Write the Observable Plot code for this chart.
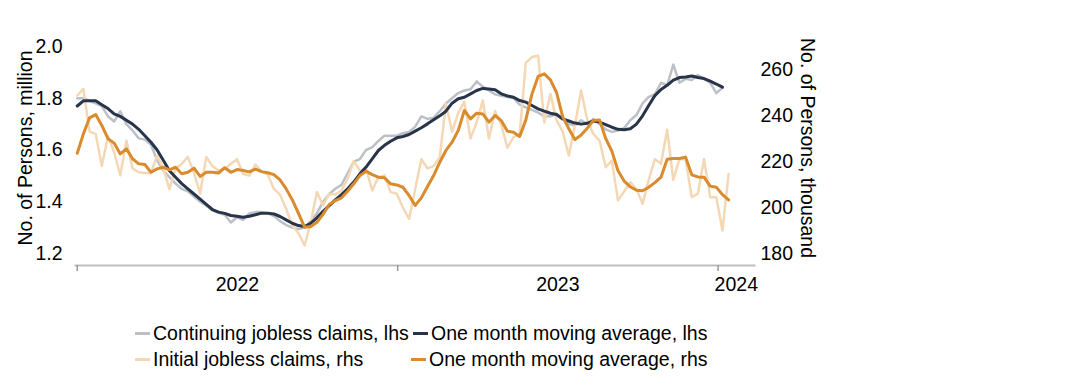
<!DOCTYPE html>
<html>
<head>
<meta charset="utf-8">
<script src="https://cdn.jsdelivr.net/npm/d3@7"></script>
<script src="https://cdn.jsdelivr.net/npm/@observablehq/plot@0.6"></script>
<style>
  html, body { margin: 0; padding: 0; background: #fff; }
  #wrap { position: relative; width: 1088px; height: 390px; font-family: "Liberation Sans", Arial, sans-serif; color: #000; }
  #legend { position: absolute; left: 0; top: 310px; width: 1088px; height: 80px; font-size: 19.5px; }
  .item { position: absolute; display: flex; align-items: center; white-space: nowrap; height: 26px; }
  .sw { display: inline-block; width: 15px; height: 3px; margin-right: 3px; }
</style>
</head>
<body>
<div id="wrap">
  <div id="chart"></div>
  <div id="legend"></div>
</div>
<script>
// ---- data (weekly, starting week ending 2022-01-01) ----
const firstWeek = "2022-01-01";
const seriesNames = [
  "Continuing jobless claims, lhs",
  "One month moving average, lhs",
  "Initial jobless claims, rhs",
  "One month moving average, rhs"
];
// Continuing jobless claims, million (lhs)
const continuing = [
  1.80,1.80,1.79,1.78,1.77,1.73,1.71,1.75,1.70,1.675,
  1.645,1.64,1.62,1.56,1.52,1.495,1.47,1.45,1.44,1.42,
  1.40,1.385,1.367,1.357,1.35,1.32,1.34,1.33,1.355,1.36,
  1.36,1.355,1.345,1.325,1.31,1.30,1.295,1.30,1.325,1.355,
  1.40,1.43,1.45,1.465,1.51,1.555,1.565,1.60,1.61,1.635,
  1.655,1.655,1.655,1.665,1.67,1.69,1.73,1.72,1.725,1.75,
  1.78,1.80,1.82,1.83,1.835,1.865,1.845,1.83,1.815,1.81,
  1.805,1.80,1.775,1.765,1.755,1.745,1.73,1.73,1.74,1.72,
  1.70,1.695,1.715,1.70,1.72,1.70,1.68,1.67,1.675,1.685,
  1.715,1.735,1.78,1.805,1.815,1.86,1.85,1.93,1.86,1.875,
  1.87,1.89,1.875,1.86,1.82,1.84
];
// One month moving average, lhs
const continuingMA = [
  1.77,1.79,1.79,1.79,1.775,1.76,1.74,1.73,1.715,1.70,
  1.68,1.655,1.63,1.60,1.56,1.52,1.495,1.47,1.45,1.43,
  1.41,1.39,1.37,1.36,1.355,1.347,1.344,1.34,1.344,1.35,
  1.356,1.356,1.353,1.343,1.33,1.317,1.308,1.304,1.317,1.338,
  1.363,1.385,1.407,1.428,1.45,1.476,1.508,1.534,1.566,1.598,
  1.618,1.634,1.647,1.652,1.66,1.673,1.686,1.701,1.717,1.732,
  1.75,1.781,1.798,1.804,1.817,1.83,1.838,1.836,1.833,1.817,
  1.809,1.804,1.791,1.785,1.772,1.759,1.75,1.742,1.737,1.72,
  1.712,1.704,1.70,1.703,1.712,1.708,1.698,1.688,1.68,1.678,
  1.682,1.70,1.732,1.772,1.81,1.834,1.85,1.87,1.88,1.882,
  1.886,1.88,1.876,1.866,1.855,1.843
];
// Initial jobless claims, thousand (rhs)
const initial = [
  248.7,251.6,233,232,218,231,224,214,229,217,
  215.3,215,215,222.6,217,208,217,219,222,215,
  206,222,218,216,216.8,219,221,214.6,213.9,218.7,
  215.6,214.3,208.1,205.6,199.4,192.2,188.8,183.5,193.6,206.7,
  200.9,205.9,205.6,207.4,212.5,220.1,216.1,216.8,207.4,213.2,
  213.9,206.7,206,200,195,208,221,217,218,222,
  245,233,241,246,230,237,246.5,230,242,236,
  226,230.6,232,263,265.4,266,237,249.4,238,233,
  222.6,236,250.9,238,232,229,217.5,220.4,203,207,
  211,208,201.6,212,221,219,233.8,212,221,221,
  204.5,206,221.1,204.5,204.5,190,214.6
];
// One month moving average, rhs
const initialMA = [
  223.6,232,239,240.4,235.7,229.9,228,223.3,225.5,221.2,
  219,218.7,215.3,216.8,217.5,216.4,217.5,214.7,215.3,217.1,
  213.5,215.3,215.3,215,217.3,215.3,216.5,216.1,215.5,216.7,
  215.6,215.1,214.3,212.0,208.1,203.3,197.5,191.4,191.7,193.6,
  197,201.3,203,204.2,207.1,210.3,213.9,215.8,214.3,213.2,
  212.9,210.3,209.8,208.8,205.2,200.9,204.2,209.1,213.9,219.7,
  224.8,228.4,233.5,242.2,238.5,241,240.7,237.1,240,237.8,
  233.2,232.7,230.9,238.1,249.4,257,258.1,255.5,250,239.5,
  234.2,229.5,231.5,234.5,237.8,238,230,224.5,216,211.5,
  209,207.5,207.3,208.8,210.8,213.2,221,221.3,221.3,221.9,
  214.2,213.3,213.2,209.3,208.8,205.6,203.3
];
const lhsTicks = [1.2, 1.4, 1.6, 1.8, 2.0];
const rhsTicks = [180, 200, 220, 240, 260];
const yearTicks = ["2022-01-01", "2023-01-01", "2024-01-01"];
const lhsDomain = [1.2, 2.0];
const rhsDomain = [180, 270];
const xDomain = ["2021-12-30T00:00Z", "2024-02-11T12:00Z"];
const lhsTitle = "No. of Persons, million";
const rhsTitle = "No. of Persons, thousand";

// ---- styles ----
const colors = ["#bcc0c7", "#283449", "#f4d8b5", "#d98b2e"];
const widths = [2.5, 3, 2.5, 3];
const FONT = "\"Liberation Sans\", Arial, sans-serif";
const FS = 19.5;

const start = new Date(firstWeek + "T00:00Z");
const dateAt = (d, i) => d3.utcDay.offset(start, 7 * i);
const toL = v => lhsDomain[0] + (v - rhsDomain[0]) * (lhsDomain[1] - lhsDomain[0]) / (rhsDomain[1] - rhsDomain[0]);
const fromL = y => rhsDomain[0] + (y - lhsDomain[0]) * (rhsDomain[1] - rhsDomain[0]) / (lhsDomain[1] - lhsDomain[0]);

const xd = xDomain.map(s => new Date(s));
const yt = yearTicks.map(s => new Date(s + "T00:00Z"));
const bounds = [...yt, xd[1]];
const labelDates = yt.map((d, i) => new Date((+d + +bounds[i + 1]) / 2));

const chart = Plot.plot({
  width: 1088,
  height: 310,
  marginTop: 46,
  marginBottom: 45,
  marginLeft: 75,
  marginRight: 334,
  style: { fontFamily: FONT, fontSize: FS + "px", color: "#000", background: "#fff", overflow: "visible" },
  x: { type: "utc", domain: xd },
  y: { domain: lhsDomain, insetBottom: 12 },
  marks: [
    Plot.frame({ anchor: "bottom", stroke: "#bfbfbf", strokeWidth: 2 }),
    Plot.axisX(yt, { anchor: "bottom", tickSize: 6, tickFormat: () => "", stroke: "#9a9a9a", strokeWidth: 1.5, label: null }),
    Plot.axisX(labelDates, { anchor: "bottom", tickSize: 0, tickPadding: 12, tickFormat: d3.utcFormat("%Y"), label: null, fill: "#000" }),
    Plot.axisY(lhsTicks, { anchor: "left", tickSize: 0, tickPadding: 13, tickFormat: d3.format(".1f"), label: null, fill: "#000" }),
    Plot.axisY(rhsTicks.map(toL), { anchor: "right", tickSize: 0, tickPadding: 6, tickFormat: d => String(Math.round(fromL(d))), label: null, fill: "#000" }),
    Plot.text([lhsTitle], { frameAnchor: "left", textAnchor: "middle", rotate: -90, dx: -50, dy: -8, text: d => d, fill: "#000", fontSize: FS }),
    Plot.text([rhsTitle], { frameAnchor: "right", textAnchor: "middle", rotate: 90, dx: 53, dy: -8, text: d => d, fill: "#000", fontSize: FS }),
    Plot.line(continuing, { x: dateAt, y: d => d, stroke: colors[0], strokeWidth: widths[0] }),
    Plot.line(initial, { x: dateAt, y: d => toL(d), stroke: colors[2], strokeWidth: widths[2] }),
    Plot.line(continuingMA, { x: dateAt, y: d => d, stroke: colors[1], strokeWidth: widths[1] }),
    Plot.line(initialMA, { x: dateAt, y: d => toL(d), stroke: colors[3], strokeWidth: widths[3] })
  ]
});
document.getElementById("chart").appendChild(chart);

// ---- legend ----
const legendPos = [[135, 320], [413, 320], [135, 346], [411, 346]];
const legend = document.getElementById("legend");
seriesNames.forEach((name, i) => {
  const it = document.createElement("div");
  it.className = "item";
  it.style.left = legendPos[i][0] + "px";
  it.style.top = (legendPos[i][1] - 310) + "px";
  const sw = document.createElement("span");
  sw.className = "sw";
  sw.style.background = colors[i];
  const tx = document.createElement("span");
  tx.textContent = name;
  it.appendChild(sw);
  it.appendChild(tx);
  legend.appendChild(it);
});
</script>
</body>
</html>
